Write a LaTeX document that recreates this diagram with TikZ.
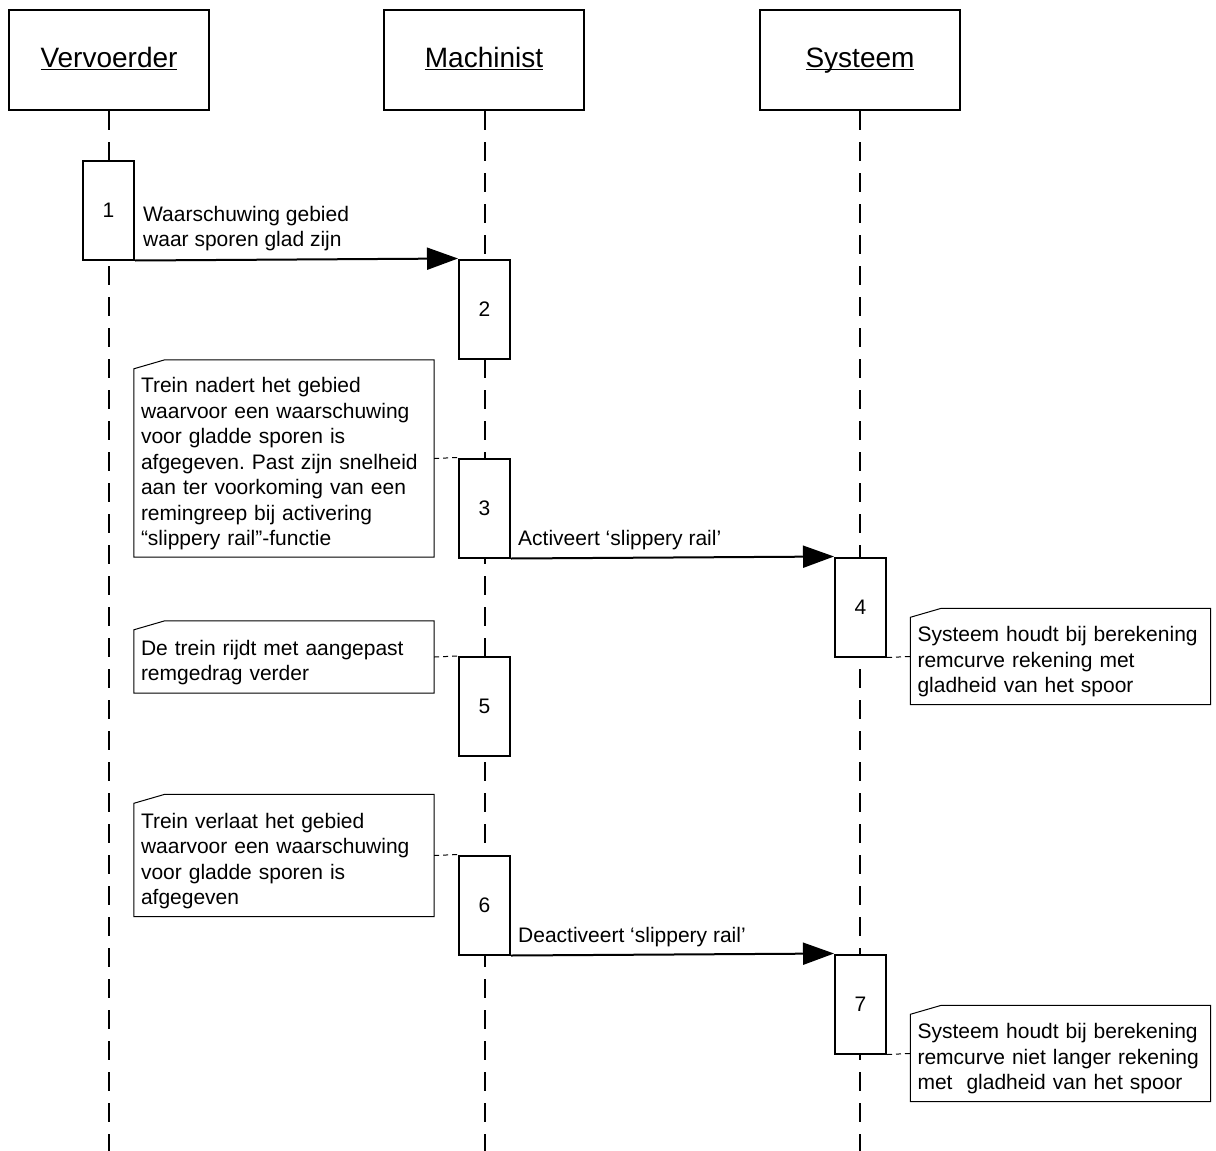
\documentclass[tikz,border=0pt]{standalone}
\usepackage{fontspec}
\setmainfont{Liberation Sans}
\usetikzlibrary{arrows.meta}
\frenchspacing

% underline at a fixed depth, also under letters with a descender
\newcommand\headtext[1]{\setbox0\hbox{#1}\rlap{\copy0}\rule[-3.4pt]{\wd0}{1.8pt}}

\tikzset{
  head/.style={draw, line width=2pt, minimum width=200pt, minimum height=100pt,
    inner sep=0pt, text height=20pt, text depth=6pt, font=\fontsize{28}{34}\selectfont},
  act/.style={draw, fill=white, line width=2pt, minimum width=51pt,
    minimum height=99pt, inner sep=0pt, font=\fontsize{21}{25}\selectfont},
  life/.style={line width=2pt, dash pattern=on 19pt off 12pt},
  msg/.style={line width=2pt, -{Triangle[length=31pt,width=22pt]}},
  msgtext/.style={inner sep=0pt, align=left, font=\fontsize{21}{25.5}\selectfont},
  note/.style={minimum width=300pt, text width=286pt, inner xsep=7pt,
    inner ysep=0pt, text height=26pt, align=left, font=\fontsize{21}{25.5}\selectfont},
  noteline/.style={line width=1pt},
  notelink/.style={line width=1pt, dash pattern=on 5pt off 4pt}
}

\begin{document}
\begin{tikzpicture}[x=1pt,y=-1pt]
\useasboundingbox (0,0) rectangle (1216,1151);
\coordinate (bottom) at (0,1151);

\node[head] (verv) at (109,60)   {\headtext{Vervoerder}};
\node[head] (mach) at (484,60)   {\headtext{Machinist}};
\node[head] (sys)  at (860,60)   {\headtext{Systeem}};

% lifelines
\draw[life] (verv.south) -- (verv.south |- bottom);
\draw[life] ([xshift=0.5pt]mach.south) -- ([xshift=0.5pt]mach.south |- bottom);
\draw[life] (sys.south) -- (sys.south |- bottom);

% activations
\node[act] (a1) at (108.5,210)  {1};
\node[act] (a2) at (484.5,309)  {2};
\node[act] (a3) at (484.5,508)  {3};
\node[act] (a4) at (860.5,607)  {4};
\node[act] (a5) at (484.5,706.5) {5};
\node[act] (a6) at (484.5,905)  {6};
\node[act] (a7) at (860.5,1004) {7};

% messages
\draw[msg] (a1.south east) -- (a2.north west);
\draw[msg] (a3.south east) -- (a4.north west);
\draw[msg] (a6.south east) -- (a7.north west);

\node[msgtext, anchor=south west] (m1) at ([xshift=8pt,yshift=9pt]a1.south east)
  {Waarschuwing gebied\\waar sporen glad zijn};
\node[msgtext, anchor=base west] (m3) at ([xshift=7pt,yshift=13pt]a3.south east)
  {Activeert ‘slippery rail’};
\node[msgtext, anchor=base west] (m6) at ([xshift=7pt,yshift=13pt]a6.south east)
  {Deactiveert ‘slippery rail’};

% notes
\node[note, minimum height=197pt] (n1) at (284,458.5)
  {Trein nadert het gebied\\waarvoor een waarschuwing\\voor gladde sporen is\\
   afgegeven. Past zijn snelheid\\aan ter voorkoming van een\\
   remingreep bij activering\\“slippery rail”-functie};
\node[note, minimum height=72pt] (n2) at (284,657)
  {De trein rijdt met aangepast\\remgedrag verder};
\node[note, minimum height=122pt] (n3) at (284,855.5)
  {Trein verlaat het gebied\\waarvoor een waarschuwing\\voor gladde sporen is\\afgegeven};
\node[note, minimum height=96pt] (n4) at (1060.5,656.5)
  {Systeem houdt bij berekening\\remcurve rekening met\\gladheid van het spoor};
\node[note, minimum height=96pt] (n5) at (1060.5,1053.5)
  {Systeem houdt bij berekening\\remcurve niet langer rekening\\met~ gladheid van het spoor};

\foreach \n in {n1,n2,n3,n4,n5}
  \draw[noteline] ([yshift=-9pt]\n.north west) -- ([xshift=31pt]\n.north west)
    -- (\n.north east) -- (\n.south east) -- (\n.south west) -- cycle;

\draw[notelink] (n1.east) -- (a3.north west);
\draw[notelink] (n2.east) -- (a5.north west);
\draw[notelink] (n3.east) -- (a6.north west);
\draw[notelink] (a4.south east) -- (n4.west);
\draw[notelink] (a7.south east) -- (n5.west);
\end{tikzpicture}
\end{document}
